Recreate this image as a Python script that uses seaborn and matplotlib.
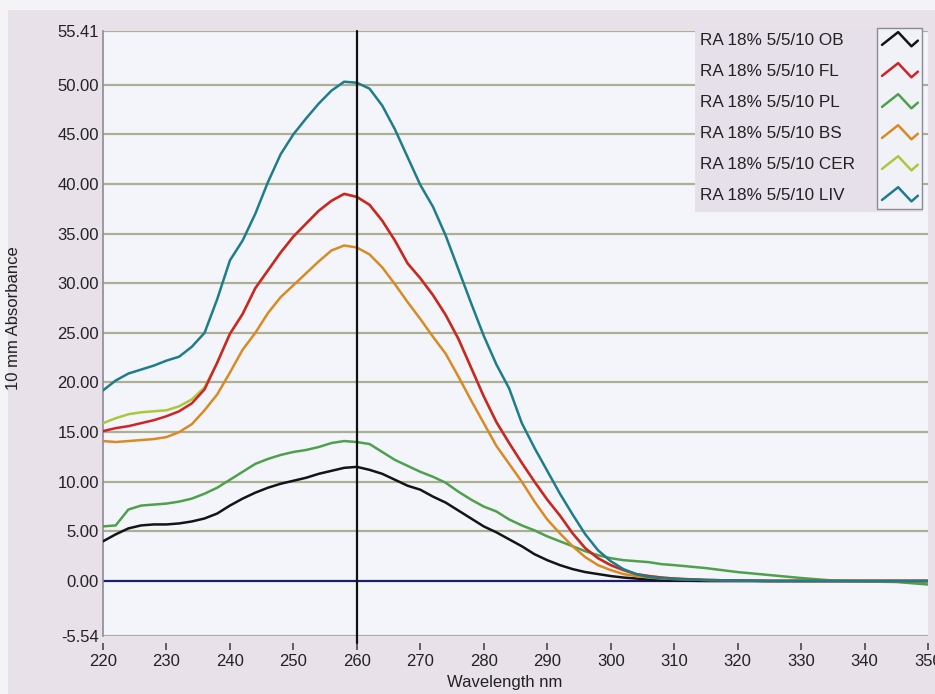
import numpy as np
import pandas as pd
import matplotlib
matplotlib.use("Agg")
import matplotlib.pyplot as plt
import seaborn as sns
from matplotlib.lines import Line2D
from matplotlib.legend_handler import HandlerBase
from matplotlib.patches import Rectangle
from matplotlib.transforms import IdentityTransform

# Wavelength grid (nm)
wavelength = [220, 222, 224, 226, 228, 230, 232, 234, 236, 238, 240, 242, 244, 246,
              248, 250, 252, 254, 256, 258, 260, 262, 264, 266, 268, 270, 272, 274,
              276, 278, 280, 282, 284, 286, 288, 290, 292, 294, 296, 298, 300, 302,
              304, 306, 308, 310, 315, 320, 325, 330, 335, 340, 345, 350]

# 10 mm absorbance per sample
ob = [4.0, 4.7, 5.3, 5.6, 5.7, 5.7, 5.8, 6.0, 6.3, 6.8, 7.6, 8.3, 8.9, 9.4,
      9.8, 10.1, 10.4, 10.8, 11.1, 11.4, 11.5, 11.2, 10.8, 10.2, 9.6, 9.2, 8.5, 7.9,
      7.1, 6.3, 5.5, 4.9, 4.2, 3.5, 2.7, 2.1, 1.6, 1.2, 0.9, 0.7, 0.5, 0.35,
      0.25, 0.15, 0.1, 0.05, 0.0, 0.0, 0.0, 0.0, 0.0, 0.0, 0.0, 0.0]
fl = [15.1, 15.4, 15.6, 15.9, 16.2, 16.6, 17.1, 17.9, 19.3, 22.0, 24.9, 26.9, 29.5, 31.3,
      33.1, 34.7, 36.0, 37.3, 38.3, 39.0, 38.7, 37.9, 36.3, 34.3, 32.0, 30.5, 28.8, 26.8,
      24.4, 21.5, 18.6, 16.0, 13.9, 11.9, 10.0, 8.2, 6.6, 4.8, 3.3, 2.3, 1.6, 1.1,
      0.7, 0.5, 0.35, 0.25, 0.1, 0.05, 0.0, 0.0, 0.0, 0.0, 0.0, 0.0]
pl = [5.5, 5.6, 7.2, 7.6, 7.7, 7.8, 8.0, 8.3, 8.8, 9.4, 10.2, 11.0, 11.8, 12.3,
      12.7, 13.0, 13.2, 13.5, 13.9, 14.1, 14.0, 13.8, 13.0, 12.2, 11.6, 11.0, 10.5, 9.9,
      9.0, 8.2, 7.5, 7.0, 6.2, 5.6, 5.1, 4.5, 4.0, 3.5, 3.0, 2.6, 2.3, 2.1,
      2.0, 1.9, 1.7, 1.6, 1.3, 0.9, 0.6, 0.3, 0.05, -0.05, -0.1, -0.35]
bs = [14.1, 14.0, 14.1, 14.2, 14.3, 14.5, 15.0, 15.8, 17.2, 18.8, 21.0, 23.3, 25.0, 27.0,
      28.6, 29.8, 31.0, 32.2, 33.3, 33.8, 33.6, 32.9, 31.6, 29.9, 28.1, 26.4, 24.6, 22.9,
      20.6, 18.2, 15.9, 13.6, 11.8, 10.0, 8.0, 6.2, 4.8, 3.5, 2.4, 1.6, 1.1, 0.7,
      0.5, 0.35, 0.25, 0.2, 0.1, 0.05, 0.0, 0.0, 0.0, 0.0, 0.0, 0.0]
cer = [15.9, 16.4, 16.8, 17.0, 17.1, 17.2, 17.6, 18.3, 19.5, 22.0, 24.9, 26.9, 29.5, 31.3,
       33.1, 34.7, 36.0, 37.3, 38.3, 39.0, 38.7, 37.9, 36.3, 34.3, 32.0, 30.5, 28.8, 26.8,
       24.4, 21.5, 18.6, 16.0, 13.9, 11.9, 10.0, 8.2, 6.6, 4.8, 3.3, 2.3, 1.6, 1.1,
       0.7, 0.5, 0.35, 0.25, 0.1, 0.05, 0.0, 0.0, 0.0, 0.0, 0.0, 0.0]
liv = [19.2, 20.2, 20.9, 21.3, 21.7, 22.2, 22.6, 23.6, 25.0, 28.4, 32.3, 34.3, 37.0, 40.2,
       43.0, 45.0, 46.6, 48.1, 49.4, 50.3, 50.2, 49.6, 47.9, 45.5, 42.7, 39.9, 37.7, 34.8,
       31.4, 28.0, 24.7, 21.8, 19.4, 15.9, 13.4, 11.1, 8.8, 6.7, 4.7, 3.1, 2.0, 1.2,
       0.7, 0.4, 0.3, 0.2, 0.1, 0.05, 0.0, 0.0, 0.0, 0.0, 0.0, 0.0]

samples = ["RA 18% 5/5/10 OB", "RA 18% 5/5/10 FL", "RA 18% 5/5/10 PL",
           "RA 18% 5/5/10 BS", "RA 18% 5/5/10 CER", "RA 18% 5/5/10 LIV"]
series = [ob, fl, pl, bs, cer, liv]
colors = ["#141414", "#d02228", "#4fa04c", "#d98a22", "#a9c83a", "#1e7d8a"]
# drawing order (higher on top); CER sits beneath FL
zorders = [3.0, 3.4, 3.1, 3.2, 2.9, 3.5]

yticks = [-5.54, 0, 5, 10, 15, 20, 25, 30, 35, 40, 45, 50, 55.41]
xticks = list(range(220, 351, 10))

df = pd.DataFrame({
    "Wavelength": np.tile(wavelength, len(samples)),
    "Absorbance": np.concatenate(series),
    "Sample": np.repeat(samples, len(wavelength)),
})

sns.set_theme(style="white")
plt.rcParams["font.family"] = ["Liberation Sans", "DejaVu Sans"]

W, H = 935, 694
fig = plt.figure(figsize=(W / 100, H / 100), dpi=100, facecolor="#f4f4f7")
# lavender panel behind the chart
fig.patches.append(Rectangle((8 / W, 0), 1, (H - 10) / H, transform=fig.transFigure,
                             facecolor="#e8e1ea", edgecolor="none", zorder=-5))

ax = fig.add_axes([103 / W, 1 - 636 / H, 825 / W, (636 - 31) / H])
ax.set_facecolor("#f3f5fb")

sns.lineplot(data=df, x="Wavelength", y="Absorbance", hue="Sample",
             hue_order=samples, palette=colors, estimator=None, sort=False,
             linewidth=1.8, ax=ax, legend=True)
for line, z in zip(ax.lines, zorders):
    line.set_zorder(z)

ax.set_xlim(220, 350)
ax.set_ylim(-5.54, 55.41)

# horizontal gridlines
for y in yticks:
    if y == 0:
        continue
    ax.axhline(y, color="#acaf92", lw=1.6, zorder=1)
ax.axhline(0, color="#1c1c6e", lw=1.6, zorder=2)
ax.axvline(260, color="#111111", lw=1.6, zorder=4, ymin=-0.012, clip_on=False)

ax.set_yticks(yticks)
ax.set_yticklabels([f"{v:.2f}" for v in yticks])
ax.set_xticks(xticks)
ax.set_xticklabels([str(v) for v in xticks])
ax.tick_params(axis="y", length=0, pad=3, labelsize=12, labelcolor="#222222")
ax.tick_params(axis="x", length=0, pad=13, labelsize=12, labelcolor="#222222")
# short tick marks set a little below the plot frame
ax.vlines(xticks, -0.012, -0.023, transform=ax.get_xaxis_transform(),
          colors="#555555", lw=1.3, clip_on=False)

for side in ["top", "right", "bottom"]:
    ax.spines[side].set_visible(False)
ax.spines["left"].set_color("#8d8a96")
ax.spines["left"].set_linewidth(1.2)

ax.set_xlabel("Wavelength nm", fontsize=12, color="#222222")
ax.xaxis.set_label_coords(0.487, -0.064)
ax.set_ylabel("10 mm Absorbance", fontsize=12, color="#222222")
ax.yaxis.set_label_coords(-0.0994, 0.526)


class ZigzagHandler(HandlerBase):
    """Legend key drawn as a small zigzag in the series colour."""

    def create_artists(self, legend, orig_handle, xdescent, ydescent,
                       width, height, fontsize, trans):
        xs = np.array([0.0, 0.45, 0.82, 1.0]) * width - xdescent
        ys = np.array([0.1, 1.0, 0.0, 0.4]) * height - ydescent
        art = Line2D(xs, ys, color=orig_handle.get_color(), lw=1.8)
        art.set_transform(trans)
        return [art]


handles, labels = ax.get_legend_handles_labels()
ax.get_legend().remove()
leg = ax.legend(handles, labels, loc="upper right",
                bbox_to_anchor=(923 / W, 1 - 27 / H), bbox_transform=fig.transFigure,
                borderaxespad=0, markerfirst=False, fontsize=12.3,
                handler_map={h: ZigzagHandler() for h in handles},
                handlelength=2.1, handleheight=0.9, handletextpad=1.0,
                labelspacing=0.88, borderpad=0.3, frameon=False)
for t in leg.get_texts():
    t.set_color("#222222")
# left-align the labels while keeping the keys in one right-hand column
for col in leg._legend_handle_box.get_children():
    for row in col.get_children():
        row.mode = "expand"
        row.width = 218
leg.set_zorder(6)

# legend background and the frame around its column of keys
fig.canvas.draw()
renderer = fig.canvas.get_renderer()
lb = leg.get_window_extent(renderer)
ax.add_patch(Rectangle((lb.x0, lb.y0 - 4), lb.width, lb.height + 4, transform=IdentityTransform(),
                       facecolor="#e6e0ea", edgecolor="none", zorder=5, clip_on=False))
boxes = [h.get_window_extent(renderer) for h in leg.legend_handles]
x0 = min(b.x0 for b in boxes) - 5
x1 = max(b.x1 for b in boxes) + 4
ax.add_patch(Rectangle((x0, lb.y0 - 1), x1 - x0, lb.height, transform=IdentityTransform(),
                       facecolor="#f1f2f8", edgecolor="#8d8a96", lw=1.0, zorder=5.5,
                       clip_on=False))

fig.savefig("out.png", dpi=100, facecolor=fig.get_facecolor())
